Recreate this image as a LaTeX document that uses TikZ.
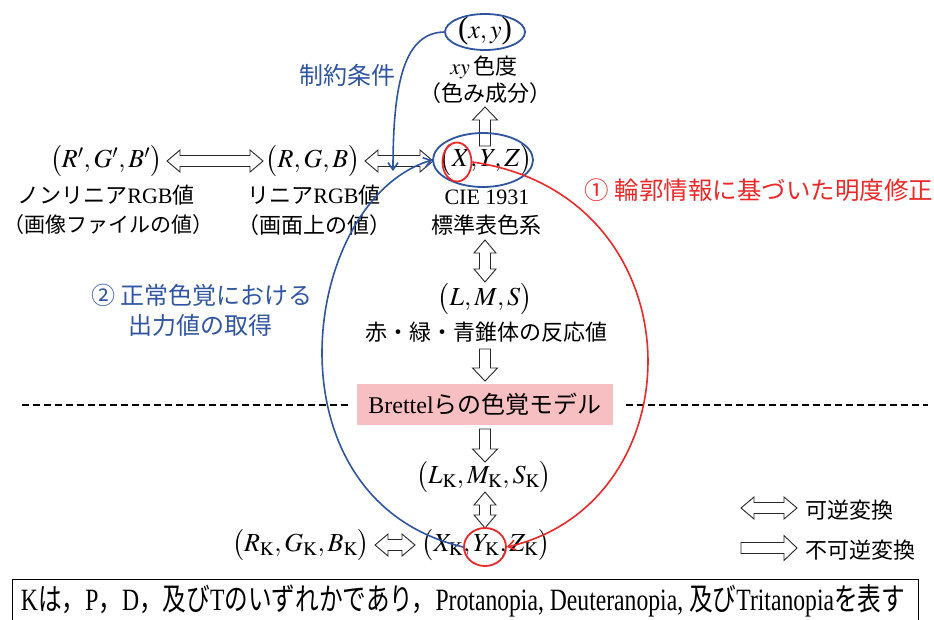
\documentclass[tikz,border=0pt]{standalone}
\usepackage{mathptmx}
\usepackage[no-math]{fontspec}
\usepackage{graphicx}
\setmainfont{Liberation Serif}
\newfontfamily\jp{Noto Sans CJK JP}
\usetikzlibrary{shapes.geometric,arrows.meta}
\definecolor{myblue}{RGB}{47,85,160}
\definecolor{myred}{RGB}{236,40,40}
\definecolor{pinkfill}{RGB}{247,191,193}
\newcommand{\J}[1]{{\jp #1}}
\newcommand{\fsz}{\fontsize{22}{26}\selectfont}
\newcommand{\fbig}{\fontsize{24}{28}\selectfont}
\newcommand{\LP}{\bigl(}
\newcommand{\RP}{\bigr)}
\newcommand{\TLP}{\mbox{\fontsize{31}{31}\selectfont(}}
\newcommand{\TRP}{\mbox{\fontsize{31}{31}\selectfont)}}
\tikzset{
  every node/.style={font=\fsz},
  hollowarr/.style={draw=black!85,fill=white,line width=0.9pt,line join=miter},
  pics/dbl/.style={code={\draw[hollowarr] (0,0) -- (13,-11) -- (13,-5.5) -- ({#1-13},-5.5) -- ({#1-13},-11) -- (#1,0) -- ({#1-13},11) -- ({#1-13},5.5) -- (13,5.5) -- (13,11) -- cycle;}},
  pics/sgl/.style={code={\draw[hollowarr] (0,-5.5) -- ({#1-13},-5.5) -- ({#1-13},-12.5) -- (#1,0) -- ({#1-13},12.5) -- ({#1-13},5.5) -- (0,5.5) -- cycle;}},
  bluecurve/.style={draw=myblue,line width=1.6pt,-{Straight Barb[length=7pt,width=10pt]}},
  redcurve/.style={draw=myred,line width=1.6pt,-{Straight Barb[length=7pt,width=10pt]}},
  ring/.style={ellipse,draw=#1,line width=1.8pt,inner sep=0pt},
  mathlbl/.style={font=\fontsize{26}{30}\selectfont,inner sep=0pt},
  biglbl/.style={font=\fbig},
}
\begin{document}
\begin{tikzpicture}[x=1pt,y=-1pt]
\useasboundingbox (0,0) rectangle (934,619);
% separator
\draw[line width=1.4pt,dash pattern=on 7pt off 4pt] (22,405) -- (348,405);
\draw[line width=1.4pt,dash pattern=on 7pt off 4pt] (626,405) -- (928,405);
% hollow arrows
\pic at (167,161) {dbl=96};
\pic at (365,161) {dbl=68};
\pic[rotate=90] at (485,146) {sgl=39};
\pic[rotate=-90] at (485,240) {dbl=42};
\pic[rotate=-90] at (485,349) {sgl=32};
\pic[rotate=-90] at (485,429) {sgl=33};
\pic[rotate=-90] at (485,492) {dbl=36};
\pic at (375,545) {dbl=40};
% main nodes
\node[mathlbl] (xy) at (485,31) {$\TLP x,y\TRP$};
\node[ring=myblue,minimum width=80pt,minimum height=36pt] (xyell) at (485,32) {};
\node (xylbl) at (484,67) {$xy$\,\J{色度}};
\node (xylbl2) at (485,93) {\J{（色み成分）}};
\node[mathlbl] (xyz) at (486,160) {$\LP X,Y,Z\RP$};
\node[ring=myblue,minimum width=100pt,minimum height=54pt] (xyzell) at (483,160) {};
\node[ring=myred,minimum width=29pt,minimum height=39pt] (xell) at (457,162) {};
\node (cie) at (487,197) {CIE 1931};
\node (cie2) at (486,225) {\J{標準表色系}};
\node[mathlbl] (rgbp) at (106,161) {$\LP R',G',B'\RP$};
\node (rgbplbl) at (106,195) {\J{ノンリニア}RGB\J{値}};
\node[font=\fontsize{21}{25}\selectfont,inner sep=1pt] (rgbplbl2) at (109,225) {\J{（画像ファイルの値）}};
\node[mathlbl] (rgb) at (313,161) {$\LP R,G,B\RP$};
\node (rgblbl) at (314,195) {\J{リニア}RGB\J{値}};
\node (rgblbl2) at (314,225) {\J{（画面上の値）}};
\node[mathlbl] (lms) at (485,299) {$\LP L,M,S\RP$};
\node (lmslbl) at (486,332) {\J{赤・緑・青錐体の反応値}};
\node[fill=pinkfill,minimum width=256pt,minimum height=41pt,biglbl] (brettel) at (485,404.5) {Brettel\J{らの色覚モデル}};
\node[mathlbl] (lmsk) at (484,477) {$\LP L_{\mathrm K},M_{\mathrm K},S_{\mathrm K}\RP$};
\node[mathlbl] (xyzk) at (486,545) {$\LP X_{\mathrm K},Y_{\mathrm K},Z_{\mathrm K}\RP$};
\node[mathlbl] (rgbk) at (301,545) {$\LP R_{\mathrm K},G_{\mathrm K},B_{\mathrm K}\RP$};
\node[ring=myred,minimum width=42pt,minimum height=38pt] (ykc) at (485,547) {};
% annotations
\node[text=myblue,biglbl] (cons) at (347,75) {\J{制約条件}};
\node[text=myred,anchor=west,font=\fontsize{24.5}{28}\selectfont] (ann1) at (581,190) {\J{① 輪郭情報に基づいた明度修正}};
\node[text=myblue,biglbl] (ann2a) at (202,295) {\J{② 正常色覚における}};
\node[text=myblue,biglbl] (ann2b) at (200,325) {\J{出力値の取得}};
% curves
\coordinate (tip1) at (393,171);
\draw[bluecurve] (xyell.west) .. controls (405,33) and (393,80) .. (tip1);
\draw[bluecurve] (ykc.west) .. controls (261,499) and (300,200) .. (xyzell.west);
\draw[redcurve] (xell.east) .. controls (700,195) and (700,502) .. (ykc.east);
% legend
\pic at (741,508) {dbl=56};
\node[anchor=west] (leg1) at (802,510) {\J{可逆変換}};
\pic at (741,548) {sgl=56};
\node[anchor=west] (leg2) at (802,550) {\J{不可逆変換}};
% note box
\draw[line width=1pt] (12,625) -- (12,579) -- (918,579) -- (918,625);
\node[inner sep=0pt] (note) at (463,601) {\resizebox{884pt}{\height}{\fontsize{31}{34}\selectfont K\J{は，}P\J{，}D\J{，及び}T\J{のいずれかであり，}Protanopia, Deuteranopia, \J{及び}Tritanopia\J{を表す}}};
\end{tikzpicture}
\end{document}
